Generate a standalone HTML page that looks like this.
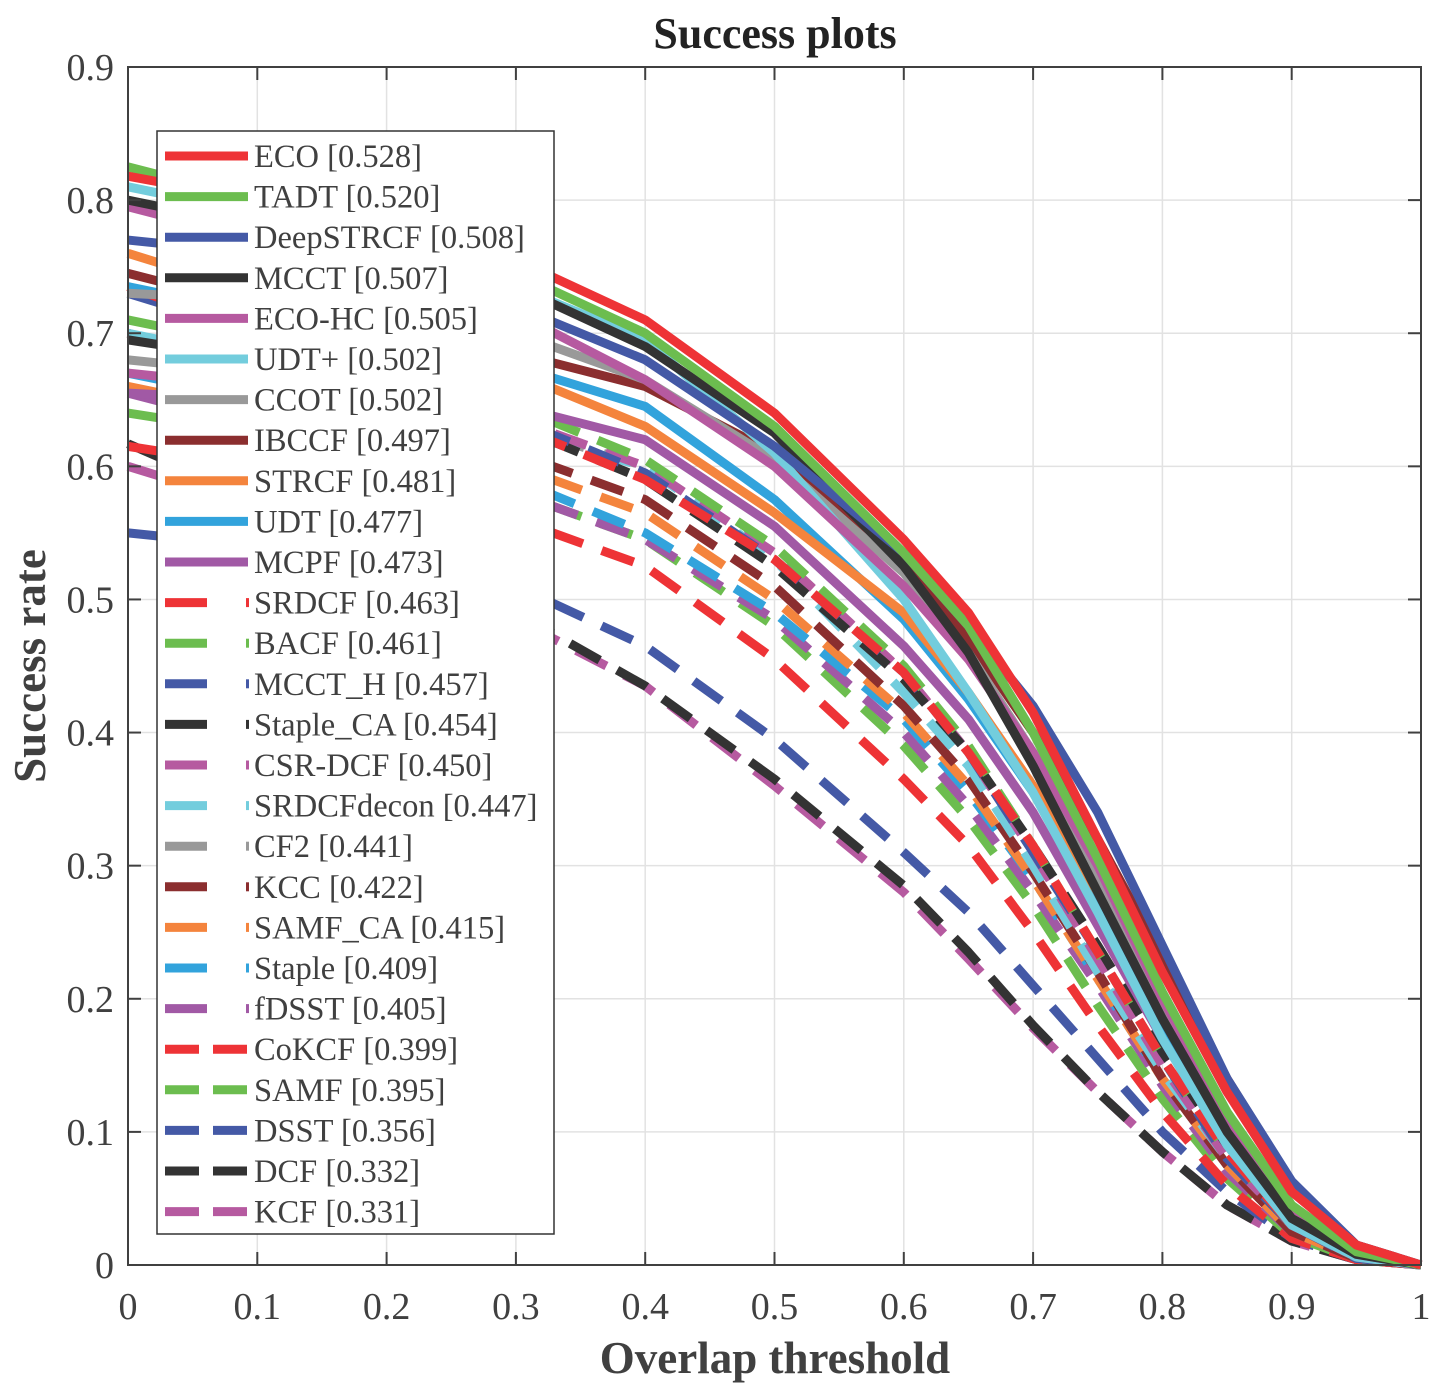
<!DOCTYPE html>
<html><head><meta charset="utf-8"><style>
body{margin:0;background:#fff}
svg text{font-family:"Liberation Serif",serif;fill:#404040}
</style></head><body>
<svg id="chart" width="1448" height="1384" viewBox="0 0 1448 1384" xmlns="http://www.w3.org/2000/svg">
<g id="grid"></g>
<g id="series"></g>
<rect x="128" y="67" width="1293" height="1198" fill="none" stroke="#404040" stroke-width="2"/>
<g id="ticks"></g>
<text x="775" y="48" text-anchor="middle" font-size="44" font-weight="bold" style="fill:#222">Success plots</text>
<text x="775" y="1373" text-anchor="middle" font-size="45" font-weight="bold">Overlap threshold</text>
<text transform="translate(45,666) rotate(-90)" text-anchor="middle" font-size="45" font-weight="bold">Success rate</text>
<g id="legend"></g>
</svg>
<script>
const xs = [0,0.1,0.2,0.3,0.4,0.5,0.6,0.65,0.7,0.75,0.8,0.85,0.9,0.95,1];
const names = ["ECO [0.528]","TADT [0.520]","DeepSTRCF [0.508]","MCCT [0.507]","ECO-HC [0.505]","UDT+ [0.502]","CCOT [0.502]","IBCCF [0.497]","STRCF [0.481]","UDT [0.477]","MCPF [0.473]","SRDCF [0.463]","BACF [0.461]","MCCT_H [0.457]","Staple_CA [0.454]","CSR-DCF [0.450]","SRDCFdecon [0.447]","CF2 [0.441]","KCC [0.422]","SAMF_CA [0.415]","Staple [0.409]","fDSST [0.405]","CoKCF [0.399]","SAMF [0.395]","DSST [0.356]","DCF [0.332]","KCF [0.331]"];
const colors = ["#EE3336","#6CBD4F","#4459A6","#333333","#B65AA0","#73CDDD","#999999","#8B2E2F","#F4843D","#32A3DC","#A159A5","#EE3336","#6CBD4F","#4459A6","#333333","#B65AA0","#73CDDD","#999999","#8B2E2F","#F4843D","#32A3DC","#A159A5","#EE3336","#6CBD4F","#4459A6","#333333","#B65AA0"];
const s_ECO=[0.818,0.80,0.78,0.755,0.71,0.64,0.545,0.49,0.415,0.32,0.22,0.13,0.055,0.015,0];
const s_TADT=[0.825,0.80,0.775,0.745,0.70,0.63,0.535,0.48,0.40,0.305,0.205,0.115,0.045,0.01,0];
const s_DeepSTRCF=[0.77,0.76,0.745,0.72,0.68,0.615,0.535,0.48,0.42,0.34,0.24,0.14,0.063,0.015,0];
const s_MCCT=[0.80,0.78,0.76,0.735,0.69,0.625,0.525,0.46,0.375,0.28,0.185,0.10,0.035,0.008,0];
const s_ECOHC=[0.795,0.77,0.745,0.715,0.665,0.60,0.51,0.455,0.385,0.30,0.20,0.11,0.04,0.008,0];
const s_UDTp=[0.81,0.79,0.76,0.735,0.695,0.61,0.50,0.43,0.355,0.265,0.17,0.09,0.03,0.006,0];
const s_CCOT=[0.73,0.725,0.715,0.70,0.665,0.605,0.52,0.46,0.385,0.29,0.19,0.10,0.035,0.007,0];
const s_IBCCF=[0.745,0.72,0.70,0.685,0.66,0.61,0.53,0.47,0.40,0.32,0.23,0.14,0.062,0.015,0];
const s_STRCF=[0.76,0.73,0.70,0.67,0.63,0.565,0.49,0.43,0.36,0.28,0.19,0.105,0.04,0.008,0];
const s_UDT=[0.735,0.715,0.695,0.675,0.645,0.575,0.485,0.425,0.355,0.27,0.18,0.10,0.035,0.007,0];
const s_MCPF=[0.655,0.65,0.65,0.645,0.62,0.555,0.465,0.41,0.34,0.255,0.17,0.09,0.03,0.006,0];
const s_SRDCF=[0.735,0.70,0.665,0.63,0.59,0.53,0.445,0.385,0.315,0.235,0.155,0.085,0.03,0.006,0];
const s_BACF=[0.71,0.69,0.67,0.645,0.605,0.54,0.45,0.39,0.315,0.235,0.155,0.085,0.03,0.006,0];
const s_MCCTH=[0.73,0.70,0.67,0.635,0.595,0.53,0.445,0.385,0.31,0.235,0.155,0.08,0.03,0.005,0];
const s_StapleCA=[0.695,0.68,0.66,0.63,0.59,0.525,0.44,0.385,0.315,0.24,0.16,0.09,0.035,0.007,0];
const s_CSRDCF=[0.67,0.66,0.65,0.635,0.60,0.535,0.445,0.385,0.31,0.23,0.15,0.08,0.03,0.006,0];
const s_SRDCFdecon=[0.70,0.68,0.655,0.625,0.60,0.53,0.43,0.375,0.30,0.22,0.145,0.08,0.03,0.006,0];
const s_CF2=[0.68,0.67,0.655,0.63,0.60,0.535,0.445,0.385,0.31,0.23,0.15,0.08,0.03,0.006,0];
const s_KCC=[0.70,0.67,0.64,0.61,0.575,0.51,0.42,0.365,0.295,0.22,0.14,0.075,0.025,0.005,0];
const s_SAMFCA=[0.66,0.64,0.62,0.60,0.565,0.50,0.415,0.36,0.29,0.215,0.14,0.075,0.025,0.005,0];
const s_Staple=[0.67,0.65,0.62,0.59,0.55,0.49,0.41,0.355,0.29,0.215,0.14,0.075,0.025,0.005,0];
const s_fDSST=[0.655,0.63,0.605,0.58,0.545,0.485,0.40,0.345,0.28,0.21,0.135,0.07,0.025,0.005,0];
const s_CoKCF=[0.615,0.60,0.58,0.56,0.525,0.455,0.365,0.315,0.25,0.18,0.115,0.06,0.02,0.004,0];
const s_SAMF=[0.64,0.625,0.60,0.58,0.545,0.48,0.39,0.335,0.27,0.195,0.125,0.065,0.022,0.004,0];
const s_DSST=[0.55,0.54,0.525,0.51,0.465,0.395,0.31,0.265,0.21,0.155,0.10,0.055,0.02,0.004,0];
const s_DCF=[0.617,0.575,0.54,0.49,0.435,0.365,0.285,0.235,0.18,0.13,0.085,0.045,0.018,0.004,0];
const s_KCF=[0.60,0.57,0.535,0.485,0.435,0.36,0.28,0.23,0.178,0.13,0.085,0.045,0.018,0.004,0];
const seriesVals=[s_ECO,s_TADT,s_DeepSTRCF,s_MCCT,s_ECOHC,s_UDTp,s_CCOT,s_IBCCF,s_STRCF,s_UDT,s_MCPF,s_SRDCF,s_BACF,s_MCCTH,s_StapleCA,s_CSRDCF,s_SRDCFdecon,s_CF2,s_KCC,s_SAMFCA,s_Staple,s_fDSST,s_CoKCF,s_SAMF,s_DSST,s_DCF,s_KCF];
const xTicks=[0,0.1,0.2,0.3,0.4,0.5,0.6,0.7,0.8,0.9,1];
const xTickLabels=["0","0.1","0.2","0.3","0.4","0.5","0.6","0.7","0.8","0.9","1"];
const yTicks=[0,0.1,0.2,0.3,0.4,0.5,0.6,0.7,0.8,0.9];
const yTickLabels=["0","0.1","0.2","0.3","0.4","0.5","0.6","0.7","0.8","0.9"];

const NS="http://www.w3.org/2000/svg";
const X=v=>128+v*1293;
const Y=v=>1265-v/0.9*1198;
function mk(tag,parent,attrs){const e=document.createElementNS(NS,tag);for(const k in attrs)e.setAttribute(k,attrs[k]);parent.appendChild(e);return e;}
const grid=document.getElementById('grid'),ticks=document.getElementById('ticks');
xTicks.forEach((t,i)=>{
  const g=mk('line',grid,{x1:X(t),x2:X(t),y1:67,y2:1265,stroke:'#e2e2e2','stroke-width':1.5});
  
  
  mk('line',ticks,{x1:X(t),x2:X(t),y1:1265,y2:1252,stroke:'#404040','stroke-width':2});
  mk('line',ticks,{x1:X(t),x2:X(t),y1:67,y2:80,stroke:'#404040','stroke-width':2});
  const tx=mk('text',ticks,{x:X(t),y:1319,'text-anchor':'middle','font-size':38});
  tx.textContent=xTickLabels[i];
  
  
});
yTicks.forEach((t,i)=>{
  const g=mk('line',grid,{x1:128,x2:1421,y1:Y(t),y2:Y(t),stroke:'#e2e2e2','stroke-width':1.5});
  
  
  mk('line',ticks,{x1:128,x2:141,y1:Y(t),y2:Y(t),stroke:'#404040','stroke-width':2});
  mk('line',ticks,{x1:1421,x2:1408,y1:Y(t),y2:Y(t),stroke:'#404040','stroke-width':2});
  const tx=mk('text',ticks,{x:114,y:Y(t)+13,'text-anchor':'end','font-size':38});
  tx.textContent=yTickLabels[i];
  
  
});
const sg=document.getElementById('series');
for(let i=seriesVals.length-1;i>=0;i--){
  const pts=seriesVals[i].map((v,j)=>X(xs[j])+','+Y(v)).join(' ');
  const dashed=i>=11;
  const attrs={points:pts,fill:'none',stroke:colors[i],'stroke-width':9,'stroke-linejoin':'round'};
  if(dashed)attrs['stroke-dasharray']='34 20';
  const pl=mk('polyline',sg,attrs);
  
  
}
const lg=document.getElementById('legend');
const box=mk('rect',lg,{x:157,y:131,width:397,height:1103,fill:'#fff',stroke:'#333','stroke-width':1.5});


names.forEach((n,i)=>{
  const y=156+i*40.6;
  let attrs={x1:165,x2:248,y1:y,y2:y,stroke:colors[i],'stroke-width':9};
  if(i>=11&&i<22){attrs.x1=165;attrs.x2=207;}
  if(i>=22)attrs['stroke-dasharray']='34 14';
  const l=mk('line',lg,attrs);
  
  
  if(i>=11&&i<22){
    mk('line',lg,{x1:246,x2:249,y1:y,y2:y,stroke:colors[i],'stroke-width':9});
  }
  const t=mk('text',lg,{x:254,y:y+11,'font-size':32.5});
  t.textContent=n;
  
  
});
</script>
</body></html>
